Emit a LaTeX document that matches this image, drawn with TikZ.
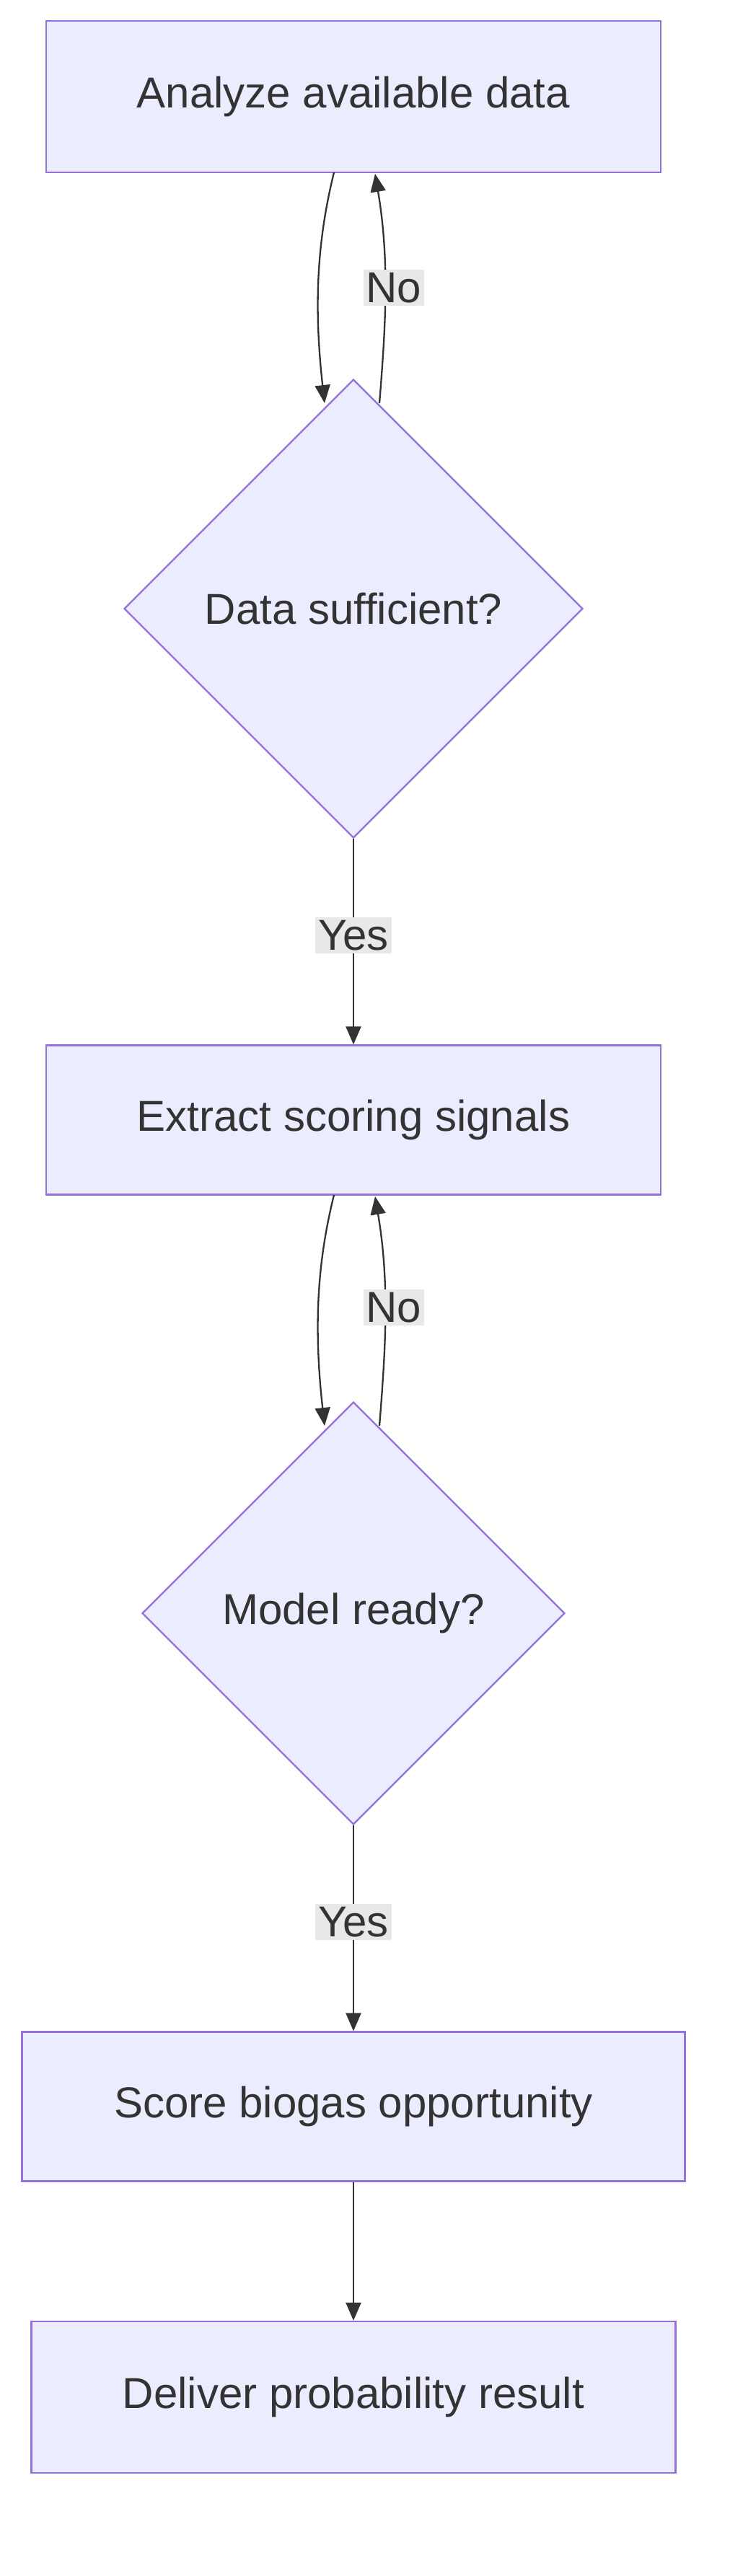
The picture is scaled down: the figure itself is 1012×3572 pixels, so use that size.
\documentclass[tikz,border=0pt]{standalone}
\usepackage{fontspec}
\setmainfont{Liberation Sans}
\usetikzlibrary{shapes.geometric,arrows.meta}
\definecolor{nodefill}{HTML}{ECECFF}
\definecolor{nodeline}{HTML}{9370DB}
\definecolor{txt}{HTML}{333333}
\definecolor{lblbg}{HTML}{E8E8E8}
\tikzset{
  x=1pt,y=1pt,
  proc/.style={draw=nodeline,fill=nodefill,line width=2.3pt,text=txt,font=\fontsize{60}{72}\selectfont,inner sep=0pt},
  dec/.style={draw=nodeline,fill=nodefill,line width=2.3pt,diamond,text=txt,font=\fontsize{60}{72}\selectfont,inner sep=0pt,aspect=1},
  edge/.style={draw=txt,line width=2.3pt,-{Triangle[length=25pt,width=21pt]}},
  lbl/.style={fill=lblbg,text=txt,font=\fontsize{60}{72}\selectfont,inner sep=4pt}
}
\begin{document}
\begin{tikzpicture}
\useasboundingbox (0,0) rectangle (1012,-3572);
\node[proc,minimum width=852pt,minimum height=210pt] (a) at (490,-134) {Analyze available data};
\node[dec,minimum width=636pt,minimum height=636pt] (b) at (490,-844) {Data sufficient?};
\node[proc,minimum width=852pt,minimum height=207pt] (c) at (490,-1553) {Extract scoring signals};
\node[dec,minimum width=586pt,minimum height=586pt] (d) at (490,-2237) {Model ready?};
\node[proc,minimum width=919pt,minimum height=207pt] (e) at (490,-2921) {Score biogas opportunity};
\node[proc,minimum width=893pt,minimum height=210pt] (f) at (490,-3324) {Deliver probability result};

\coordinate (a1) at (463,-239);
\coordinate (a2) at (520,-241);
\coordinate (b1) at (450,-559);
\coordinate (b2) at (526,-559);
\draw[edge] (a1) .. controls (443,-321) and (433,-409) .. (b1);
\draw[edge] (b2) .. controls (535,-448) and (540,-360) .. (a2);
\node[lbl] (n1) at (546,-399) {No};

\draw[edge] (b.south) -- (c.north) node[lbl,pos=0.47] (y1) {Yes};

\coordinate (c1) at (463,-1657);
\coordinate (c2) at (520,-1659);
\coordinate (d1) at (450,-1977);
\coordinate (d2) at (526,-1977);
\draw[edge] (c1) .. controls (443,-1738) and (433,-1826) .. (d1);
\draw[edge] (d2) .. controls (535,-1865) and (540,-1778) .. (c2);
\node[lbl] (n2) at (546,-1813) {No};

\draw[edge] (d.south) -- (e.north) node[lbl,pos=0.47] (y2) {Yes};
\draw[edge] (e.south) -- (f.north);
\end{tikzpicture}
\end{document}
